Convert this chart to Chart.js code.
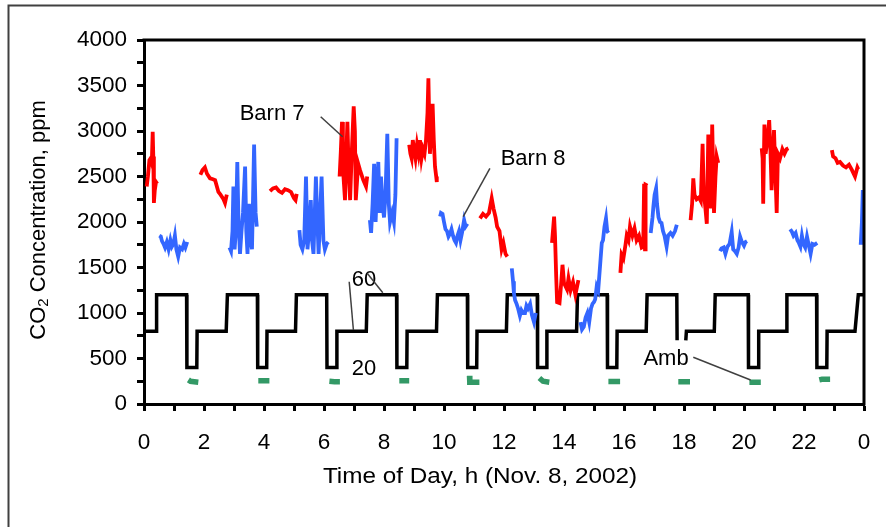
<!DOCTYPE html>
<html>
<head>
<meta charset="utf-8">
<script src="https://cdn.jsdelivr.net/npm/chart.js@4.4.1/dist/chart.umd.min.js"></script>
<style>
  html, body { margin: 0; padding: 0; background: #fff; }
  #wrap { width: 886px; height: 527px; }
</style>
</head>
<body>
<div id="wrap"><canvas id="co2" width="886" height="527"></canvas></div>
<script>
// readings as [hour, ppm]; null breaks the line between sampling periods
const barn7Readings = [
  [0.09, 2390], [0.13, 2500], [0.18, 2680], [0.22, 2700], [0.26, 2650], [0.29, 2990], [0.31, 2720], [0.33, 2210], [0.36, 2350], [0.40, 2440], [0.44, 2420], null,
  [1.88, 2520], [1.95, 2570], [2.03, 2600], [2.10, 2530], [2.20, 2480], [2.30, 2470], [2.37, 2460], [2.42, 2400], [2.48, 2330], [2.55, 2300], [2.59, 2280], [2.65, 2250], [2.70, 2210], [2.76, 2300], null,
  [4.20, 2340], [4.30, 2370], [4.40, 2380], [4.50, 2340], [4.60, 2320], [4.70, 2360], [4.80, 2350], [4.90, 2330], [5.00, 2260], [5.05, 2240], [5.09, 2310], null,
  [6.52, 2500], [6.56, 2770], [6.60, 3100], [6.63, 2600], [6.70, 2240], [6.74, 2700], [6.78, 3100], [6.82, 2600], [6.87, 2240], [6.93, 2800], [6.99, 3270], [7.03, 3000], [7.06, 2240], [7.14, 2640], [7.20, 2570], [7.31, 2460], [7.40, 2390], [7.44, 2500], null,
  [8.84, 2850], [8.88, 2750], [8.92, 2700], [8.96, 2900], [9.00, 2800], [9.05, 2700], [9.10, 2850], [9.15, 2750], [9.20, 2900], [9.25, 2700], [9.30, 2800], [9.35, 2750], [9.40, 2900], [9.45, 3200], [9.48, 3580], [9.53, 2750], [9.58, 3000], [9.62, 3300], [9.66, 2900], [9.70, 2610], [9.74, 2500], [9.76, 2440], null,
  [11.20, 2040], [11.30, 2090], [11.40, 2060], [11.50, 2100], [11.59, 2260], [11.65, 2150], [11.72, 2050], [11.77, 1950], [11.85, 1900], [11.92, 1700], [11.98, 1770], [12.05, 1650], [12.11, 1620], null,
  [13.60, 1770], [13.67, 2060], [13.70, 1850], [13.74, 1400], [13.77, 1120], [13.85, 1110], [13.90, 1300], [13.95, 1530], [14.00, 1330], [14.10, 1260], [14.15, 1380], [14.22, 1250], [14.30, 1340], [14.38, 1200], [14.48, 1360], null,
  [15.88, 1440], [15.92, 1640], [15.98, 1600], [16.05, 1750], [16.09, 1850], [16.15, 1800], [16.20, 1950], [16.28, 1850], [16.35, 1930], [16.42, 1800], [16.50, 1850], [16.59, 1720], [16.64, 1730], [16.67, 2420], [16.70, 1700], [16.72, 2410], [16.78, 2400], null,
  [18.22, 2020], [18.27, 2200], [18.31, 2480], [18.35, 2300], [18.42, 2250], [18.50, 2270], [18.56, 2230], [18.62, 2860], [18.66, 2300], [18.70, 2200], [18.76, 1980], [18.81, 2960], [18.85, 2300], [18.90, 2150], [18.94, 3070], [18.97, 2600], [19.00, 2100], [19.05, 2500], [19.09, 2720], [19.14, 2650], null,
  [20.59, 2810], [20.62, 2700], [20.64, 2200], [20.68, 3070], [20.72, 2750], [20.78, 2900], [20.84, 3120], [20.88, 2800], [20.92, 2350], [20.96, 2700], [21.00, 3010], [21.05, 2500], [21.09, 2100], [21.13, 2750], [21.20, 2700], [21.28, 2800], [21.35, 2750], [21.42, 2800], [21.48, 2810], null,
  [22.93, 2790], [22.97, 2720], [23.05, 2700], [23.12, 2650], [23.20, 2660], [23.30, 2620], [23.40, 2600], [23.50, 2630], [23.60, 2570], [23.70, 2500], [23.78, 2600], [23.81, 2580]
];

const barn8Readings = [
  [0.51, 1850], [0.56, 1840], [0.60, 1790], [0.65, 1760], [0.70, 1720], [0.76, 1780], [0.82, 1700], [0.88, 1800], [0.93, 1730], [0.98, 1760], [1.03, 1850], [1.08, 1700], [1.14, 1620], [1.20, 1720], [1.27, 1700], [1.33, 1760], [1.38, 1720], [1.44, 1780], null,
  [2.85, 1720], [2.90, 1680], [2.95, 1900], [2.98, 2390], [3.02, 1700], [3.06, 1900], [3.11, 2660], [3.15, 2000], [3.20, 1650], [3.25, 1900], [3.30, 2100], [3.37, 2610], [3.41, 1900], [3.45, 1650], [3.50, 2200], [3.55, 1800], [3.60, 1700], [3.67, 2850], [3.72, 2100], [3.76, 1950], null,
  [5.18, 1910], [5.22, 1750], [5.28, 1700], [5.34, 1800], [5.40, 2500], [5.45, 1700], [5.50, 1900], [5.56, 2240], [5.60, 1800], [5.65, 1650], [5.73, 2500], [5.78, 2000], [5.82, 1650], [5.92, 2500], [5.98, 1800], [6.03, 1700], [6.09, 1760], [6.14, 1780], null,
  [7.53, 2020], [7.57, 1880], [7.62, 2200], [7.67, 2640], [7.72, 2000], [7.77, 2400], [7.81, 2660], [7.86, 2100], [7.90, 2500], [7.95, 2200], [8.00, 2050], [8.05, 2300], [8.11, 2970], [8.16, 2200], [8.20, 2000], [8.27, 2100], [8.33, 2000], [8.38, 2300], [8.42, 2920], null,
  [9.87, 2060], [9.90, 2100], [9.95, 2090], [10.00, 2000], [10.05, 1920], [10.10, 1900], [10.15, 1840], [10.20, 1870], [10.25, 1920], [10.30, 1850], [10.35, 1800], [10.40, 1770], [10.45, 1850], [10.50, 1900], [10.55, 1800], [10.60, 1880], [10.67, 2020], [10.72, 1950], [10.78, 1980], null,
  [12.26, 1490], [12.30, 1350], [12.33, 1220], [12.37, 1140], [12.42, 1100], [12.47, 1050], [12.53, 970], [12.58, 1030], [12.63, 1000], [12.70, 1000], [12.75, 1080], [12.80, 1050], [12.87, 1100], [12.93, 980], [13.00, 900], [13.06, 1000], null,
  [14.55, 900], [14.60, 820], [14.66, 850], [14.72, 950], [14.78, 1000], [14.84, 900], [14.90, 1050], [14.95, 1100], [15.00, 1120], [15.04, 1150], [15.09, 1290], [15.14, 1250], [15.20, 1510], [15.26, 1770], [15.30, 1800], [15.35, 1950], [15.40, 2040], [15.44, 1900], [15.48, 1880], null,
  [16.89, 1880], [16.95, 2050], [16.98, 2170], [17.02, 2300], [17.07, 2370], [17.10, 2200], [17.15, 2050], [17.20, 2000], [17.25, 1990], [17.30, 1900], [17.35, 1850], [17.42, 1730], [17.47, 1850], [17.55, 1880], [17.62, 1850], [17.70, 1900], [17.76, 1970], null,
  [19.20, 1680], [19.25, 1710], [19.32, 1720], [19.38, 1650], [19.45, 1730], [19.52, 1760], [19.59, 1890], [19.64, 1700], [19.70, 1680], [19.76, 1650], [19.82, 1720], [19.87, 1840], [19.93, 1780], [20.00, 1740], [20.05, 1780], [20.10, 1790], null,
  [21.54, 1920], [21.60, 1890], [21.65, 1850], [21.72, 1880], [21.78, 1800], [21.83, 1770], [21.88, 1730], [21.93, 1850], [21.98, 1760], [22.04, 1720], [22.10, 1840], [22.15, 1760], [22.22, 1650], [22.28, 1760], [22.35, 1750], [22.44, 1770], null,
  [23.89, 1750], [23.93, 2000], [23.96, 2350], [23.98, 1900], [24.00, 1750]
];

// sampling valve / fan stage trace (60 = 1200 level, 20 = 400 level)
const stageReadings = [
  [0, 800], [0.40, 800], [0.42, 1200], [1.42, 1200], [1.43, 400], [1.76, 400], [1.77, 800],
  [2.74, 800], [2.78, 1200], [3.78, 1200], [3.79, 400], [4.09, 400], [4.10, 800],
  [5.05, 800], [5.08, 1200], [6.09, 1200], [6.10, 400], [6.42, 400], [6.43, 800],
  [7.41, 800], [7.44, 1200], [8.42, 1200], [8.43, 400], [8.76, 400], [8.77, 800],
  [9.75, 800], [9.78, 1200], [10.78, 1200], [10.79, 400], [11.09, 400], [11.10, 800],
  [12.08, 800], [12.11, 1200], [13.11, 1200], [13.12, 400], [13.42, 400], [13.43, 800],
  [14.42, 800], [14.45, 1200], [15.44, 1200], [15.45, 400], [15.76, 400], [15.77, 800],
  [16.74, 800], [16.77, 1200], [17.76, 1200], [17.77, 700], null,
  [18.06, 700], [18.08, 800], [19.01, 800], [19.04, 1200], [20.14, 1200], [20.15, 400], [20.48, 400], [20.49, 800],
  [21.40, 800], [21.43, 1200], [22.42, 1200], [22.43, 400], [22.76, 400], [22.77, 800],
  [23.70, 800], [23.81, 1200], [24.00, 1200]
];

const ambientReadings = [
  [1.48, 265], [1.55, 250], [1.81, 240], null,
  [3.81, 255], [4.18, 255], null,
  [6.18, 250], [6.35, 245], [6.53, 245], null,
  [8.51, 255], [8.84, 255], null,
  [10.85, 310], [10.86, 240], [11.18, 240], null,
  [13.18, 285], [13.30, 250], [13.51, 240], null,
  [15.48, 248], [15.87, 248], null,
  [17.81, 245], [18.20, 245], null,
  [20.18, 240], [20.56, 240], null,
  [22.51, 265], [22.60, 272], [22.87, 272]
];

const hourTicks = [0, 2, 4, 6, 8, 10, 12, 14, 16, 18, 20, 22, 24];
const ppmTicks = [0, 500, 1000, 1500, 2000, 2500, 3000, 3500, 4000];

// text labels with leader lines, in data units
const callouts = [
  { text: 'Barn 7', x: 4.27, y: 3187, lines: [[5.89, 3157, 6.62, 2937]] },
  { text: 'Barn 8', x: 12.97, y: 2692, lines: [[11.53, 2590, 10.64, 2058]] },
  { text: '60', x: 7.33, y: 1363, lines: [[6.84, 1344, 6.98, 813], [7.44, 1436, 7.96, 1223]] },
  { text: '20', x: 7.33, y: 385, lines: [] },
  { text: 'Amb', x: 17.4, y: 495, lines: [[18.31, 513, 20.22, 264]] }
];

const FONT = "'Liberation Sans', Arial, sans-serif";

function toPoints(readings) {
  return readings.map(r => r ? { x: r[0], y: r[1] } : { x: null, y: null });
}

function series(label, readings, color, width) {
  return {
    label: label,
    data: toPoints(readings),
    showLine: true,
    borderColor: color,
    backgroundColor: color,
    borderWidth: width,
    pointRadius: 0,
    pointHoverRadius: 0,
    spanGaps: false,
    tension: 0
  };
}

// text a bit wider than the font draws it, like the original figure
function wideText(ctx, text, x, y, sx) {
  ctx.save();
  ctx.translate(x, y);
  ctx.scale(sx, 1);
  ctx.fillText(text, 0, 0);
  ctx.restore();
}

const chartDecor = {
  id: 'chartDecor',
  beforeDraw(chart) {
    const ctx = chart.ctx;
    ctx.save();
    ctx.fillStyle = '#fff';
    ctx.fillRect(0, 0, chart.width, chart.height);
    ctx.restore();
  },
  afterDraw(chart) {
    const { ctx, chartArea: a, scales } = chart;
    const xs = scales.x, ys = scales.y;
    ctx.save();

    // closing box on top and right of the plot
    ctx.strokeStyle = '#000';
    ctx.lineWidth = 3;
    ctx.beginPath();
    ctx.moveTo(a.left - 1.5, a.top);
    ctx.lineTo(a.right, a.top);
    ctx.lineTo(a.right, a.bottom + 1.5);
    ctx.stroke();

    // outer figure frame
    ctx.strokeStyle = '#404040';
    ctx.lineWidth = 2;
    ctx.beginPath();
    ctx.moveTo(8.5, chart.height);
    ctx.lineTo(8.5, 5.5);
    ctx.lineTo(chart.width, 5.5);
    ctx.stroke();

    // callouts
    ctx.fillStyle = '#000';
    ctx.font = '22px ' + FONT;
    ctx.textAlign = 'center';
    ctx.textBaseline = 'middle';
    ctx.lineWidth = 1.5;
    callouts.forEach(c => {
      ctx.fillText(c.text, xs.getPixelForValue(c.x), ys.getPixelForValue(c.y));
      c.lines.forEach(l => {
        ctx.beginPath();
        ctx.moveTo(xs.getPixelForValue(l[0]), ys.getPixelForValue(l[1]));
        ctx.lineTo(xs.getPixelForValue(l[2]), ys.getPixelForValue(l[3]));
        ctx.stroke();
      });
    });

    // x title
    ctx.font = '21.5px ' + FONT;
    wideText(ctx, 'Time of Day, h (Nov. 8, 2002)', 480, 477, 1.13);

    // y title with subscript
    ctx.translate(39, 220);
    ctx.rotate(-Math.PI / 2);
    const big = '22px ' + FONT, small = '15px ' + FONT;
    ctx.font = big;
    const w1 = ctx.measureText('CO').width;
    const w3 = ctx.measureText(' Concentration, ppm').width;
    ctx.font = small;
    const w2 = ctx.measureText('2').width;
    let x0 = -(w1 + w2 + w3) / 2;
    ctx.textAlign = 'left';
    ctx.font = big;
    ctx.fillText('CO', x0, 0);
    ctx.font = small;
    ctx.fillText('2', x0 + w1, 5);
    ctx.font = big;
    ctx.fillText(' Concentration, ppm', x0 + w1 + w2, 0);

    ctx.restore();
  }
};

new Chart(document.getElementById('co2'), {
  type: 'scatter',
  data: {
    datasets: [
      series('Barn 7', barn7Readings, '#ff0000', 3.8),
      series('Barn 8', barn8Readings, '#3366ff', 3.8),
      series('Stage', stageReadings, '#000000', 3.5),
      Object.assign(series('Amb', ambientReadings, '#339966', 5.5), { borderCapStyle: 'butt' })
    ]
  },
  options: {
    responsive: false,
    animation: false,
    events: [],
    layout: { padding: { top: 40, right: 22, left: 0, bottom: 0 } },
    plugins: {
      legend: { display: false },
      tooltip: { enabled: false },
      title: { display: false }
    },
    scales: {
      x: {
        type: 'linear',
        min: 0,
        max: 24,
        afterFit(scale) {
          scale.height = 123;
          scale.paddingLeft = 0;
          scale.paddingRight = 0;
        },
        border: { display: true, color: '#000', width: 3 },
        grid: { drawOnChartArea: false, drawTicks: true, tickLength: 7, tickWidth: 3, tickColor: '#000' },
        ticks: {
          stepSize: 1,
          autoSkip: false,
          maxRotation: 0,
          padding: 18,
          color: '#000',
          font: { family: FONT, size: 22.5 },
          callback: v => hourTicks.includes(v) ? String(v % 24) : ''
        }
      },
      y: {
        min: 0,
        max: 4000,
        afterFit(scale) {
          scale.width = 144;
          scale.paddingTop = 0;
          scale.paddingBottom = 0;
        },
        border: { display: true, color: '#000', width: 3 },
        grid: { drawOnChartArea: false, drawTicks: true, tickLength: 7, tickWidth: 3, tickColor: '#000' },
        ticks: {
          stepSize: 250,
          autoSkip: false,
          padding: 10,
          color: '#000',
          font: { family: FONT, size: 22.5 },
          callback: v => ppmTicks.includes(v) ? String(v) : ''
        }
      }
    }
  },
  plugins: [chartDecor]
});
</script>
</body>
</html>
